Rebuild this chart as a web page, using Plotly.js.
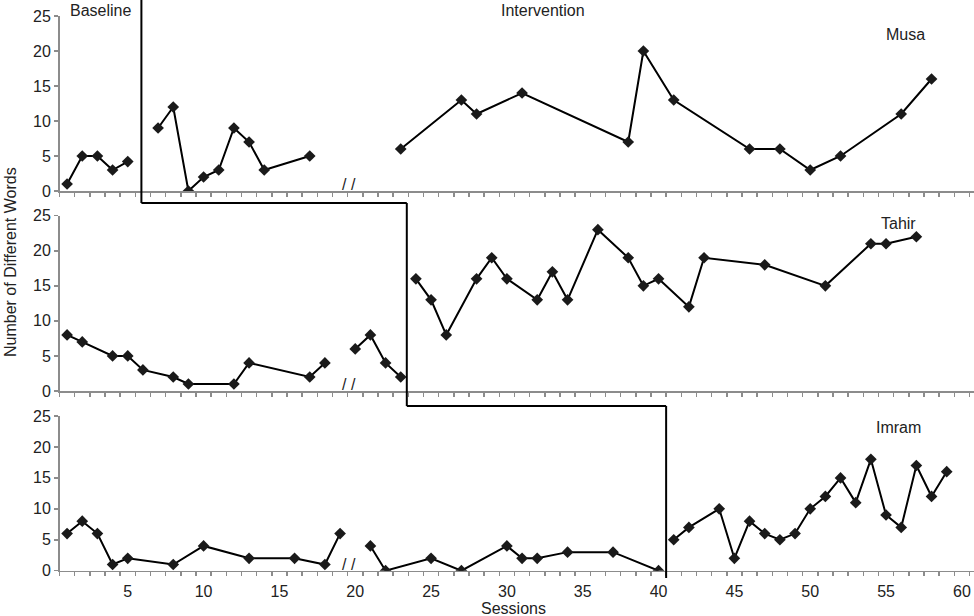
<!DOCTYPE html>
<html>
<head>
<meta charset="utf-8">
<script src="https://cdn.plot.ly/plotly-3.0.1.min.js"></script>
<style>
  body { margin: 0; background: #fff; }
  #myDiv { width: 974px; height: 616px; }
</style>
</head>
<body>
<div id="myDiv"></div>
<script>
// sessions and number of different words, null = break in the line
var musaSessions = [1, 2, 3, 4, 5, 6, 7, 8, 9, 10, 11, 12, 13, 14, 17, 20, 23, 27, 28, 31, 38, 39, 41, 46, 48, 50, 52, 56, 58];
var musaWords    = [1, 5, 5, 3, 4.2, null, 9, 12, 0, 2, 3, 9, 7, 3, 5, null, 6, 13, 11, 14, 7, 20, 13, 6, 6, 3, 5, 11, 16];

var tahirSessions = [1, 2, 4, 5, 6, 8, 9, 12, 13, 17, 18, 19, 20, 21, 22, 23, 23.5, 24, 25, 26, 28, 29, 30, 32, 33, 34, 36, 38, 39, 40, 42, 43, 47, 51, 54, 55, 57];
var tahirWords    = [8, 7, 5, 5, 3, 2, 1, 1, 4, 2, 4, null, 6, 8, 4, 2, null, 16, 13, 8, 16, 19, 16, 13, 17, 13, 23, 19, 15, 16, 12, 19, 18, 15, 21, 21, 22];

var imramSessions = [1, 2, 3, 4, 5, 8, 10, 13, 16, 18, 19, 20, 21, 22, 25, 27, 30, 31, 32, 34, 37, 40, 40.5, 41, 42, 44, 45, 46, 47, 48, 49, 50, 51, 52, 53, 54, 55, 56, 57, 58, 59];
var imramWords    = [6, 8, 6, 1, 2, 1, 4, 2, 2, 1, 6, null, 4, 0, 2, 0, 4, 2, 2, 3, 3, 0, null, 5, 7, 10, 2, 8, 6, 5, 6, 10, 12, 15, 11, 18, 9, 7, 17, 12, 16];

// phase change lines (between sessions) and axis break
var phaseChanges = [5.9, 23.4, 40.5];
var breakSession = 19.6;
var xTickLabels = [5, 10, 15, 20, 25, 30, 35, 40, 45, 50, 55, 60];
var yTicks = [0, 5, 10, 15, 20, 25];

var font = 'Liberation Sans, Arial, sans-serif';
var grey = '#8c8c8c';
var W = 974, H = 616;

function py(pix) { return 1 - pix / H; }
function px(pix) { return pix / W; }

function series(x, y, xa, ya) {
  return {
    x: x, y: y, xaxis: xa, yaxis: ya,
    mode: 'lines+markers',
    type: 'scatter',
    connectgaps: false,
    line: { color: '#000', width: 2 },
    marker: { symbol: 'diamond', size: 9, color: '#1a1a1a' },
    showlegend: false,
    hoverinfo: 'x+y'
  };
}

var data = [
  series(musaSessions, musaWords, 'x3', 'y3'),
  series(tahirSessions, tahirWords, 'x2', 'y2'),
  series(imramSessions, imramWords, 'x', 'y')
];

function xAxis(anchor, labels) {
  return {
    anchor: anchor,
    domain: [59.5 / W, 1],
    range: [0.5, 60.8],
    showgrid: false,
    zeroline: false,
    showline: true,
    linecolor: grey,
    linewidth: 1.5,
    tickmode: 'array',
    tickvals: xTickLabels,
    ticks: '',
    showticklabels: labels,
    ticklabelstandoff: 6,
    tickfont: { family: font, size: 16, color: '#222' },
    minor: { tickmode: 'linear', tick0: 0.5, dtick: 1, ticks: 'outside', ticklen: 4, tickwidth: 1.5, tickcolor: grey }
  };
}

function yAxis(anchor, dom) {
  return {
    anchor: anchor,
    domain: dom,
    range: [0, 25],
    showgrid: false,
    zeroline: false,
    showline: true,
    linecolor: grey,
    linewidth: 1.5,
    tickmode: 'array',
    tickvals: yTicks,
    ticks: 'outside',
    ticklen: 4,
    tickwidth: 1.5,
    tickcolor: grey,
    tickfont: { family: font, size: 16, color: '#222' }
  };
}

var shapes = [
  { type: 'line', xref: 'x', yref: 'paper', x0: phaseChanges[0], x1: phaseChanges[0], y0: 1, y1: py(203) },
  { type: 'line', xref: 'x', yref: 'paper', x0: phaseChanges[0], x1: phaseChanges[1], y0: py(203), y1: py(203) },
  { type: 'line', xref: 'x', yref: 'paper', x0: phaseChanges[1], x1: phaseChanges[1], y0: py(203), y1: py(406) },
  { type: 'line', xref: 'x', yref: 'paper', x0: phaseChanges[1], x1: phaseChanges[2], y0: py(406), y1: py(406) },
  { type: 'line', xref: 'x', yref: 'paper', x0: phaseChanges[2], x1: phaseChanges[2], y0: py(406), y1: py(578) }
];
shapes.forEach(function (s) { s.line = { color: '#000', width: 2 }; s.layer = 'above'; });

function label(text, x, y) {
  return { text: text, xref: 'paper', yref: 'paper', x: px(x), y: py(y), showarrow: false,
           xanchor: 'center', yanchor: 'middle', font: { family: font, size: 16, color: '#222' } };
}

function breakMark(xa, ya) {
  return { text: '/ /', xref: xa, yref: ya, x: breakSession, y: 0, showarrow: false,
           xanchor: 'center', yanchor: 'bottom', yshift: -4,
           font: { family: font, size: 16, color: '#222' } };
}

var annotations = [
  label('Baseline', 100, 10),
  label('Intervention', 543, 10),
  label('Musa', 905, 35),
  label('Tahir', 898, 223),
  label('Imram', 898, 427),
  label('Sessions', 513, 608),
  breakMark('x3', 'y3'),
  breakMark('x2', 'y2'),
  breakMark('x', 'y')
];
var ytitle = label('Number of Different Words', 10, 262);
ytitle.textangle = -90;
annotations.push(ytitle);

var layout = {
  width: W,
  height: H,
  margin: { l: 0, r: 0, t: 0, b: 0 },
  paper_bgcolor: '#fff',
  plot_bgcolor: '#fff',
  font: { family: font, size: 16, color: '#222' },
  xaxis: xAxis('y', true),
  xaxis2: xAxis('y2', false),
  xaxis3: xAxis('y3', false),
  yaxis: yAxis('x', [py(570.7), py(416)]),
  yaxis2: yAxis('x2', [py(391), py(215.7)]),
  yaxis3: yAxis('x3', [py(191), py(16)]),
  shapes: shapes,
  annotations: annotations
};

Plotly.newPlot('myDiv', data, layout, { displayModeBar: false, staticPlot: true });
</script>
</body>
</html>
